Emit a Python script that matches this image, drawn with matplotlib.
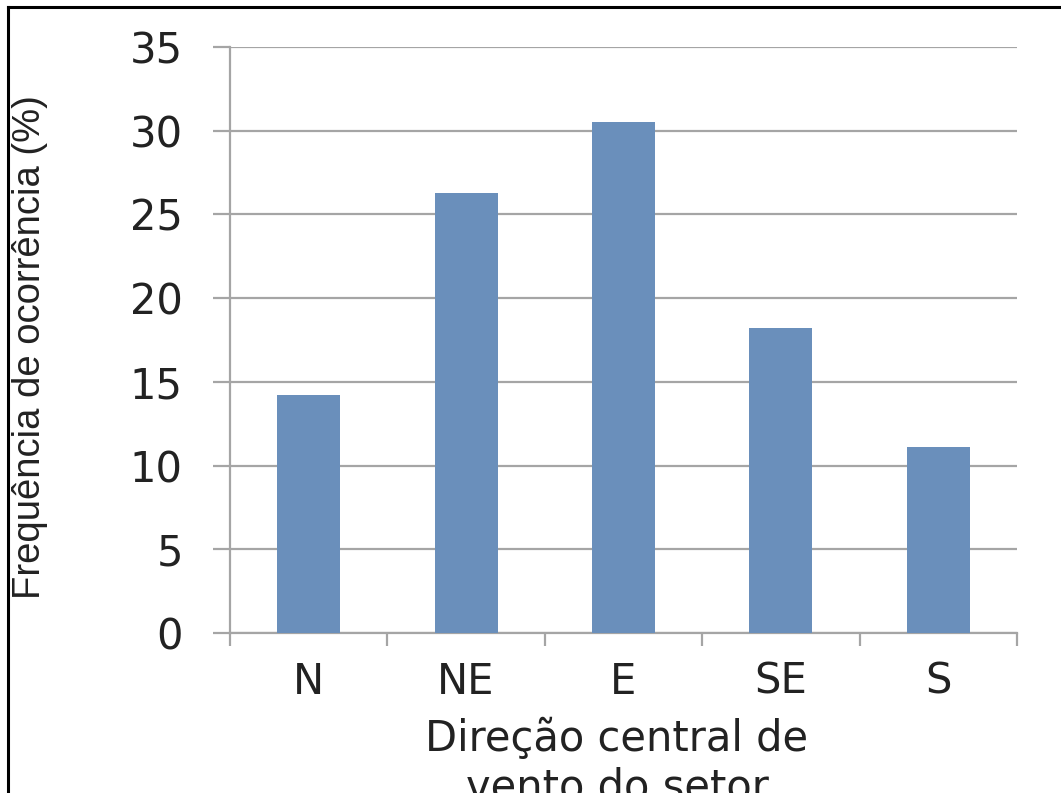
# wind sector occurrence bar chart

import numpy as np
import matplotlib.pyplot as plt
from matplotlib.lines import Line2D

sectors = ["N", "NE", "E", "SE", "S"]
freq = [14.2, 26.3, 30.5, 18.2, 11.1]
yticks = [0, 5, 10, 15, 20, 25, 30, 35]

bar_color = "#6A8FBB"
grid_color = "#a5a5a5"

fig = plt.figure(figsize=(10.61, 7.93), dpi=100)
ax = fig.add_axes([230/1061, 1-633/793, 787/1061, 586/793])

x = np.arange(len(sectors))
ax.bar(x, freq, width=0.4, color=bar_color, zorder=3)

ax.set_xlim(-0.5, len(sectors)-0.5)
ax.set_ylim(0, 35)
ax.set_yticks(yticks)
ax.set_yticklabels([str(v) for v in yticks], fontsize=30, family="DejaVu Sans", color="#222222")
ax.set_xticks(x)
ax.set_xticklabels(sectors, fontsize=30, family="DejaVu Sans", color="#222222")
ax.set_xticks(np.arange(-0.5, len(sectors)), minor=True)

ax.yaxis.grid(True, color=grid_color, lw=1.6, zorder=0)
ax.tick_params(axis="y", which="major", length=12, width=1.6, color=grid_color, pad=22)
ax.tick_params(axis="x", which="major", length=0, pad=20)
ax.tick_params(axis="x", which="minor", length=9, width=1.6, color=grid_color, direction="out")

for s in ["top", "right"]:
    ax.spines[s].set_visible(False)
ax.spines["left"].set_color(grid_color)
ax.spines["left"].set_linewidth(1.6)
ax.spines["bottom"].set_color(grid_color)
ax.spines["bottom"].set_linewidth(1.6)

fig.text(30/1061, 1-347/793, "Frequência de ocorrência (%)", rotation=90,
         ha="center", va="center", fontsize=27.5, family="Liberation Sans", color="#222222")
fig.text(617/1061, 1-718/793, "Direção central de\nvento do setor", ha="center", va="top",
         fontsize=30, family="DejaVu Sans", color="#222222", linespacing=1.2)

# black frame round the figure
fig.add_artist(Line2D([8/1061, 8/1061], [0, 1-7/793], color="black", lw=2.2, transform=fig.transFigure))
fig.add_artist(Line2D([8/1061, 1], [1-7/793, 1-7/793], color="black", lw=2.2, transform=fig.transFigure))

fig.savefig("out.png", dpi=100)
